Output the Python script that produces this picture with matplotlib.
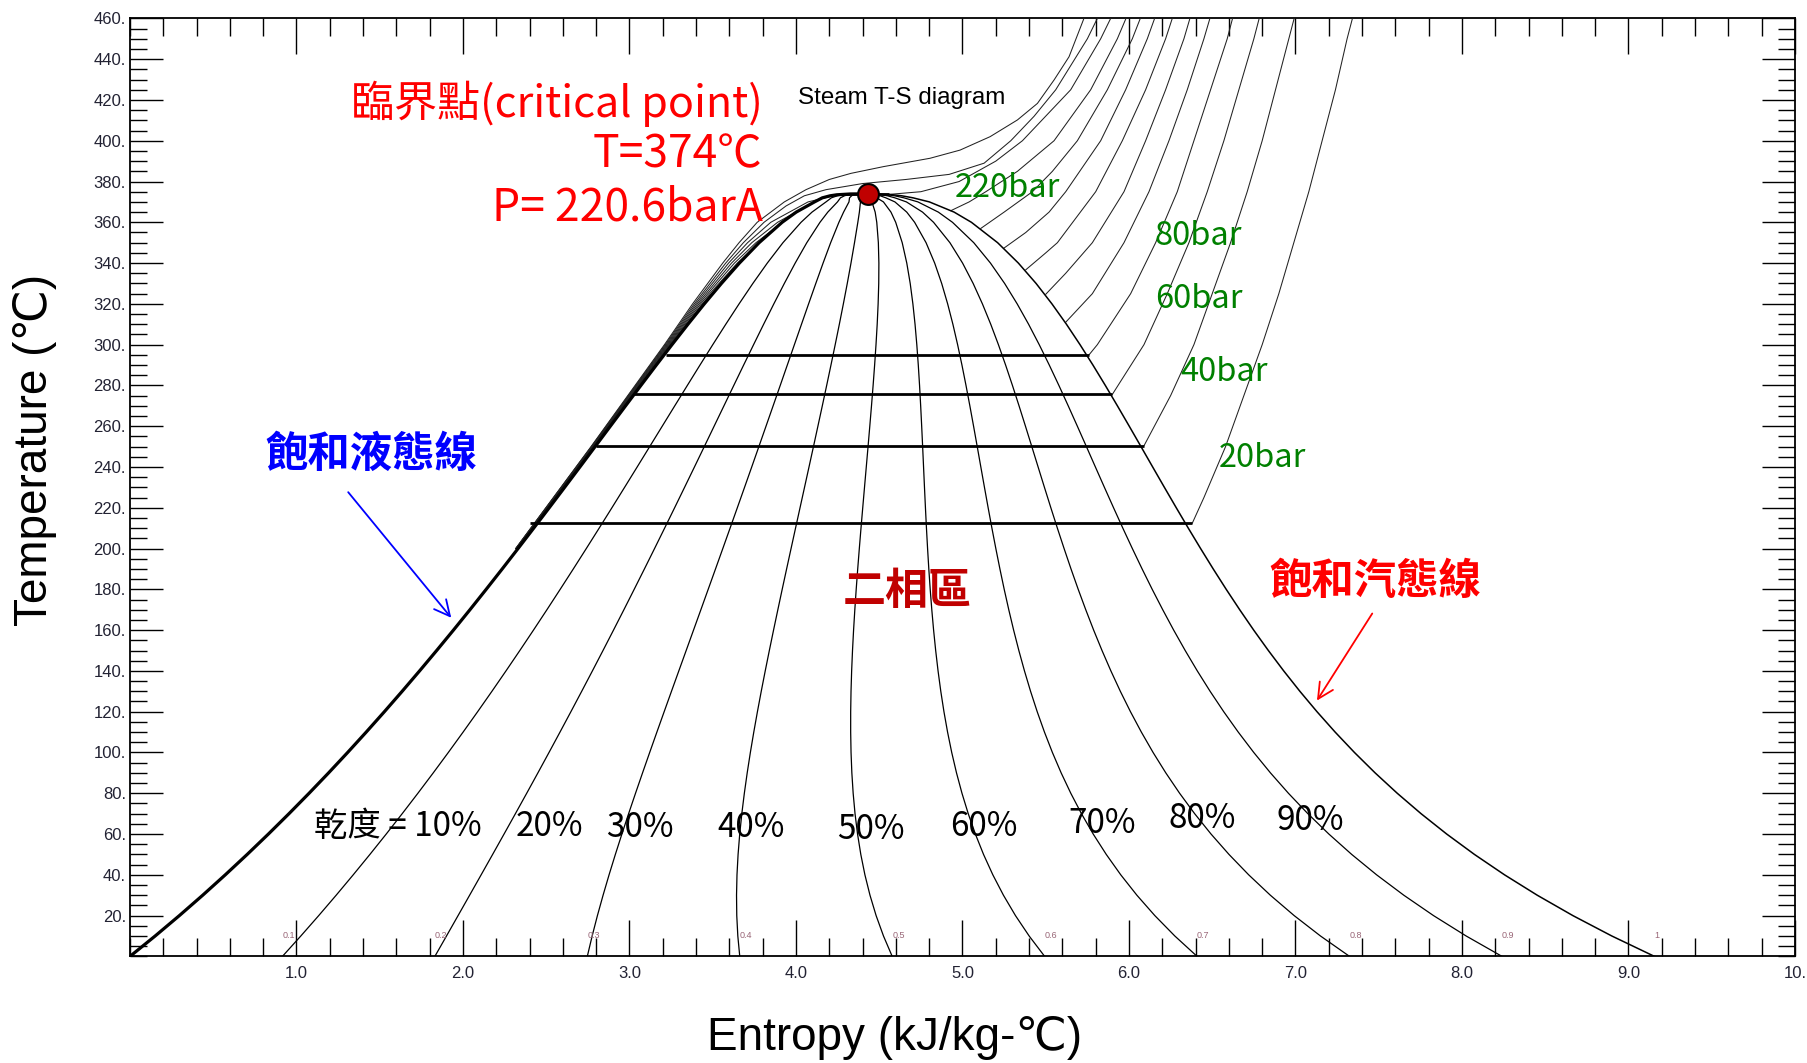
import numpy as np
import matplotlib.pyplot as plt
from matplotlib.ticker import MultipleLocator, FixedLocator, FixedFormatter

# 飽和線 (steam table)
sat_T = [0.01, 10, 20, 30, 40, 50, 60, 70, 80, 90, 100, 110, 120, 130, 140, 150,
         160, 170, 180, 190, 200, 210, 220, 230, 240, 250, 260, 270, 280, 290,
         300, 310, 320, 330, 340, 350, 360, 365, 370, 372, 373, 373.5, 373.9, 373.95]
sat_sf = [0.0000, 0.1511, 0.2965, 0.4368, 0.5724, 0.7038, 0.8313, 0.9551, 1.0756,
          1.1929, 1.3072, 1.4188, 1.5279, 1.6346, 1.7392, 1.8418, 1.9426, 2.0417,
          2.1392, 2.2355, 2.3305, 2.4245, 2.5177, 2.6101, 2.7020, 2.7935, 2.8849,
          2.9765, 3.0685, 3.1612, 3.2552, 3.3510, 3.4494, 3.5518, 3.6601, 3.7784,
          3.9167, 4.0014, 4.1112, 4.158, 4.205, 4.245, 4.327, 4.407]
sat_sg = [9.1556, 8.8999, 8.6660, 8.4520, 8.2555, 8.0748, 7.9081, 7.7540, 7.6111,
          7.4781, 7.3541, 7.2381, 7.1291, 7.0264, 6.9293, 6.8371, 6.7491, 6.6650,
          6.5840, 6.5059, 6.4302, 6.3563, 6.2840, 6.2128, 6.1423, 6.0721, 6.0016,
          5.9304, 5.8579, 5.7834, 5.7059, 5.6244, 5.5372, 5.4422, 5.3356, 5.2110,
          5.0536, 4.9497, 4.8012, 4.703, 4.635, 4.582, 4.490, 4.407]

qualities = [0.1, 0.2, 0.3, 0.4, 0.5, 0.6, 0.7, 0.8, 0.9]
q_small_labels = ['0.1', '0.2', '0.3', '0.4', '0.5', '0.6', '0.7', '0.8', '0.9', '1']
q_big_labels = ['乾度 = 10%', '20%', '30%', '40%', '50%', '60%', '70%', '80%', '90%']
q_big_s = [1.61, 2.52, 3.06, 3.73, 4.45, 5.13, 5.84, 6.44, 7.09]
q_big_T = [63.6, 63.6, 63.0, 63.0, 62.0, 63.6, 65.4, 67.6, 66.4]

# 二相區內的等壓線 20/40/60/80 bar
dome_T = [212.4, 250.4, 275.6, 295.0]
dome_left = [2.40, 2.80, 3.03, 3.22]
dome_right = [6.38, 6.09, 5.90, 5.76]

# 過熱區等壓線 (T, s)
sh20_T = [212.4, 225, 250, 275, 300, 325, 350, 375, 400, 425, 450, 475]
sh20_s = [6.38, 6.45, 6.58, 6.69, 6.80, 6.90, 6.99, 7.08, 7.16, 7.24, 7.31, 7.39]
sh40_T = [250.4, 275, 300, 325, 350, 375, 400, 425, 450, 475]
sh40_s = [6.09, 6.25, 6.39, 6.50, 6.61, 6.71, 6.80, 6.88, 6.96, 7.04]
sh60_T = [275.6, 300, 325, 350, 375, 400, 425, 450, 475]
sh60_s = [5.90, 6.09, 6.23, 6.36, 6.47, 6.57, 6.66, 6.75, 6.83]
sh80_T = [295.0, 300, 325, 350, 375, 400, 425, 450, 475]
sh80_s = [5.76, 5.81, 6.01, 6.16, 6.29, 6.39, 6.49, 6.59, 6.67]
sh100_T = [311.0, 325, 350, 375, 400, 425, 450, 475]
sh100_s = [5.62, 5.78, 5.97, 6.12, 6.24, 6.35, 6.45, 6.54]
sh120_T = [324.7, 335, 350, 375, 400, 425, 450, 475]
sh120_s = [5.50, 5.62, 5.78, 5.97, 6.10, 6.22, 6.33, 6.42]
sh140_T = [336.7, 345, 350, 375, 400, 425, 450, 475]
sh140_s = [5.38, 5.50, 5.57, 5.80, 5.96, 6.10, 6.22, 6.32]
sh160_T = [347.4, 355, 365, 375, 400, 425, 450, 475]
sh160_s = [5.25, 5.38, 5.52, 5.62, 5.83, 5.98, 6.11, 6.22]
sh180_T = [357.0, 365, 375, 385, 400, 425, 450, 475]
sh180_s = [5.11, 5.25, 5.42, 5.54, 5.69, 5.87, 6.02, 6.14]
sh200_T = [365.7, 370, 375, 385, 400, 425, 450, 475]
sh200_s = [4.93, 5.04, 5.14, 5.33, 5.55, 5.77, 5.93, 6.06]
sh220_T = [373.7, 375, 380, 390, 400, 425, 450, 475]
sh220_s = [4.56, 4.75, 4.98, 5.20, 5.36, 5.65, 5.83, 5.98]

# 壓縮液區等壓線
liq100_T = [200, 250, 300, 311.0]
liq100_s = [2.3255, 2.7867, 3.2516, 3.3603]
liq120_T = [200, 250, 300, 320, 324.7]
liq120_s = [2.3241, 2.7844, 3.2464, 3.4460, 3.4967]
liq140_T = [200, 250, 300, 320, 336.7]
liq140_s = [2.3229, 2.7821, 3.2412, 3.4365, 3.6232]
liq160_T = [200, 250, 300, 320, 340, 347.4]
liq160_s = [2.3217, 2.7798, 3.2361, 3.4270, 3.6478, 3.7457]
liq180_T = [200, 250, 300, 320, 340, 350, 357.0]
liq180_s = [2.3204, 2.7775, 3.2309, 3.4174, 3.6303, 3.7597, 3.8717]
liq200_T = [200, 250, 300, 320, 340, 350, 360, 365.7]
liq200_s = [2.3192, 2.7753, 3.2257, 3.4079, 3.6128, 3.7345, 3.8895, 4.0146]
liq220_T = [200, 250, 300, 320, 340, 350, 360, 370, 373.7]
liq220_s = [2.318, 2.773, 3.2205, 3.3984, 3.5952, 3.7092, 3.8486, 4.0725, 4.26]

# 超臨界等壓線 240 / 260 bar
p240_T = [200, 250, 300, 320, 340, 350, 360, 368, 373, 376, 379, 381, 383.5, 389,
          400, 412, 425, 450, 475]
p240_s = [2.317, 2.771, 3.215, 3.389, 3.578, 3.684, 3.808, 3.94, 4.05, 4.18, 4.40,
          4.66, 4.92, 5.13, 5.29, 5.43, 5.56, 5.75, 5.90]
p260_T = [200, 250, 300, 320, 340, 350, 360, 370, 376, 381, 384, 387.3, 391.4, 395.4,
          402, 410.2, 418.3, 429.8, 441.2, 458, 475]
p260_s = [2.316, 2.769, 3.210, 3.379, 3.560, 3.658, 3.767, 3.93, 4.06, 4.20, 4.33,
          4.525, 4.805, 4.985, 5.166, 5.33, 5.45, 5.55, 5.64, 5.72, 5.80]

crit_s, crit_T = 4.43, 374.0

sh_lines = [(sh20_s, sh20_T), (sh40_s, sh40_T), (sh60_s, sh60_T), (sh80_s, sh80_T),
            (sh100_s, sh100_T), (sh120_s, sh120_T), (sh140_s, sh140_T),
            (sh160_s, sh160_T), (sh180_s, sh180_T), (sh200_s, sh200_T),
            (sh220_s, sh220_T)]
liq_lines = [(liq100_s, liq100_T), (liq120_s, liq120_T), (liq140_s, liq140_T),
             (liq160_s, liq160_T), (liq180_s, liq180_T), (liq200_s, liq200_T),
             (liq220_s, liq220_T), (p240_s, p240_T), (p260_s, p260_T)]

CJK = ['Noto Sans CJK TC', 'DejaVu Sans']
ARIAL = ['Liberation Sans', 'DejaVu Sans']

fig = plt.figure(figsize=(18.08, 10.63), dpi=100)
ax = fig.add_axes([0.0719, 0.1003, 0.9209, 0.8824])

sf = np.array(sat_sf)
sg = np.array(sat_sg)

ax.plot(sat_sf, sat_T, color='black', lw=2.3, solid_capstyle='round', zorder=4)
ax.plot(sat_sg, sat_T, color='black', lw=1.1, zorder=4)

for q in qualities:
    ax.plot(sf + q * (sg - sf), sat_T, color='black', lw=0.9, zorder=3)

for s_vals, t_vals in sh_lines + liq_lines:
    ax.plot(s_vals, t_vals, color='#222222', lw=0.75, zorder=3)

ax.hlines(dome_T, dome_left, dome_right, color='black', lw=2.0, zorder=4)
ax.hlines([373.7], [sh220_s[0] - 0.30], [sh220_s[0]], color='black', lw=2.0, zorder=4)

ax.plot([crit_s], [crit_T], 'o', ms=15, mfc='#c00000', mec='black', mew=1.5, zorder=6)

# 小的乾度刻度
for i, lab in enumerate(q_small_labels):
    ax.text(sg[0] * (i + 1) / 10 + 0.0, 10, lab, fontsize=6.5, color='#996677',
            ha='left', va='center', family=ARIAL)

for lab, s, t in zip(q_big_labels, q_big_s, q_big_T):
    ax.text(s, t, lab, fontsize=24, color='black', ha='center', va='center', family=CJK)

ax.text(3.80, 418.2, '臨界點(critical point)', fontsize=31, color='red',
        ha='right', va='center', family=CJK, weight='medium')
ax.text(3.80, 393.3, 'T=374℃', fontsize=32, color='red',
        ha='right', va='center', family=CJK, weight='medium')
ax.text(3.80, 367.3, 'P= 220.6barA', fontsize=32, color='red',
        ha='right', va='center', family=CJK, weight='medium')

ax.text(4.01, 421, 'Steam T-S diagram', fontsize=17.4, color='black',
        ha='left', va='center', family=ARIAL)

for lab, s, t in [('220bar', 4.955, 376.8), ('80bar', 6.156, 353.3),
                  ('60bar', 6.156, 322.4), ('40bar', 6.306, 286.6),
                  ('20bar', 6.54, 244.4)]:
    ax.text(s, t, lab, fontsize=23.5, color='#008000', ha='left', va='center',
            family=CJK)

ax.text(1.45, 245.7, '飽和液態線', fontsize=30.5, color='#0000ff', ha='center',
        va='center', family=CJK, weight='bold')
ax.annotate('', xy=(1.94, 165), xytext=(1.30, 228.7),
            arrowprops=dict(arrowstyle='->', color='#0000ff', lw=1.3,
                            mutation_scale=28))
ax.text(7.48, 183.5, '飽和汽態線', fontsize=30.5, color='red', ha='center',
        va='center', family=CJK, weight='bold')
ax.annotate('', xy=(7.12, 124.3), xytext=(7.47, 169.3),
            arrowprops=dict(arrowstyle='->', color='red', lw=1.3,
                            mutation_scale=28))
ax.text(4.665, 179, '二相區', fontsize=31, color='#c00000', ha='center',
        va='center', family=CJK, weight='bold')

ax.set_xlim(0, 10)
ax.set_ylim(0, 460)

x_major = [1, 2, 3, 4, 5, 6, 7, 8, 9, 10]
x_labels = ['1.0', '2.0', '3.0', '4.0', '5.0', '6.0', '7.0', '8.0', '9.0', '10.']
y_major = list(range(20, 461, 20))
y_labels = [f'{v}.' for v in y_major]
ax.xaxis.set_major_locator(FixedLocator(x_major))
ax.xaxis.set_major_formatter(FixedFormatter(x_labels))
ax.xaxis.set_minor_locator(MultipleLocator(0.2))
ax.yaxis.set_major_locator(FixedLocator(y_major))
ax.yaxis.set_major_formatter(FixedFormatter(y_labels))
ax.yaxis.set_minor_locator(MultipleLocator(5))

ax.tick_params(which='both', direction='in', top=True, right=True,
               colors='black', labelcolor='#222233', labelsize=12, width=1)
ax.xaxis.set_tick_params(which='major', length=26, pad=7)
ax.xaxis.set_tick_params(which='minor', length=13)
ax.yaxis.set_tick_params(which='major', length=24, pad=3)
ax.yaxis.set_tick_params(which='minor', length=12)
for lab in ax.get_xticklabels() + ax.get_yticklabels():
    lab.set_family(ARIAL)
for lab in ax.get_yticklabels():
    lab.set_va('center_baseline')
for sp in ax.spines.values():
    sp.set_linewidth(1.3)

fig.text(0.4949, 0.0238, 'Entropy (kJ/kg-℃)', fontsize=33, ha='center',
         va='center', family=ARIAL)
fig.text(0.0195, 0.577, 'Temperature (℃)', fontsize=33, ha='center',
         va='center', rotation=90, family=ARIAL)

fig.savefig('out.png', dpi=100, facecolor='white')
